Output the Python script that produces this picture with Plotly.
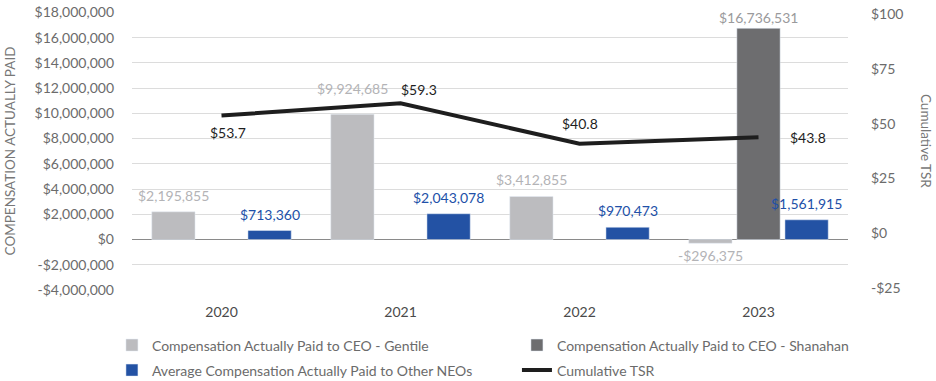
import plotly.graph_objects as go

years = ["2020", "2021", "2022", "2023"]
cap_gentile = [2195855, 9924685, 3412855, -296375]
cap_shanahan = [None, None, None, 16736531]
cap_neos = [713360, 2043078, 970473, 1561915]
tsr = [53.7, 59.3, 40.8, 43.8]

left_ticks = [-4000000, -2000000, 0, 2000000, 4000000, 6000000, 8000000,
              10000000, 12000000, 14000000, 16000000, 18000000]
right_ticks = [-25, 0, 25, 50, 75, 100]

FONT = "Lato"
GRAY_TXT = "#6b6b6b"
C_GENTILE = "#bcbcbf"
C_SHAN = "#6d6d6f"
C_NEO = "#2352a4"
C_TSR = "#1e1e1e"

W, H = 936, 381
ML, MR, MT, MB = 132, 88, 12, 91
PW = W - ML - MR
PH = H - MT - MB


def money(v):
    if v is None:
        return ""
    return ("-$" if v < 0 else "$") + f"{abs(v):,.0f}"


fig = go.Figure()
series = [
    ("Compensation Actually Paid to CEO - Gentile", cap_gentile, C_GENTILE, "#b3b3b6", -1, "legend"),
    ("Compensation Actually Paid to CEO - Shanahan", cap_shanahan, C_SHAN, "#9a9a9c", 0, "legend"),
    ("Average Compensation Actually Paid to Other NEOs", cap_neos, C_NEO, "#2150a8", 1, "legend2"),
]
for name, vals, col, tcol, _, lg in series:
    fig.add_trace(go.Bar(x=years, y=vals, name=name, marker_color=col, legend=lg))

fig.add_trace(go.Scatter(
    x=years, y=tsr, name="Cumulative TSR", mode="lines", yaxis="y2", legend="legend2",
    line=dict(color=C_TSR, width=4),
))

# bar value labels
group_step = PW / 4 * (1 - 0.194) / 3
for name, vals, col, tcol, slot, _ in series:
    for i, v in enumerate(vals):
        if v is None:
            continue
        gap = 6
        if slot == -1 and i == 1:
            gap = 15
        if slot == 0:
            gap = 0
        if v < 0:
            gap = 2
        fig.add_annotation(
            x=i, y=v, xref="x", yref="y", text=money(v), showarrow=False,
            xshift=slot * group_step, yshift=gap if v >= 0 else -gap,
            yanchor="bottom" if v >= 0 else "top",
            font=dict(size=14, color=tcol, family=FONT))

# TSR labels
offsets = [(6, -17), (18, 14), (0, 20), (49, 0)]
for i, (v, (dx, dy)) in enumerate(zip(tsr, offsets)):
    fig.add_annotation(x=i, y=v, xref="x", yref="y2", text=f"${v:.1f}",
                       showarrow=False, xshift=dx, yshift=dy,
                       font=dict(size=14, color="#1e1e1e", family=FONT))

fig.add_annotation(x=1.109, y=0.536, xref="paper", yref="paper", text="Cumulative TSR",
                   textangle=90, showarrow=False, xanchor="center", yanchor="middle",
                   font=dict(size=13.5, color="#777777", family=FONT))

leg_common = dict(orientation="h", xanchor="left", yanchor="top",
                  entrywidth=360, traceorder="normal",
                  font=dict(size=14, color=GRAY_TXT, family=FONT))

fig.update_layout(
    width=W, height=H,
    margin=dict(l=ML, r=MR, t=MT, b=MB, autoexpand=False),
    paper_bgcolor="white", plot_bgcolor="white",
    barmode="group", bargap=0.194, bargroupgap=0.1,
    font=dict(family=FONT, color=GRAY_TXT, size=14),
    showlegend=True,
    legend=dict(x=-0.028, y=-0.142, **leg_common),
    legend2=dict(x=-0.028, y=-0.232, **leg_common),
    xaxis=dict(type="category", range=[-0.5, 3.5], tickfont=dict(size=14, color="#4a4a4a"),
               showgrid=False, showline=False, ticks="", ticklabelstandoff=12),
    yaxis=dict(range=[-4000000, 18030000], tickvals=left_ticks,
               ticktext=[money(v) for v in left_ticks],
               showgrid=True, gridcolor="#dcdcdc", gridwidth=1,
               zeroline=True, zerolinecolor="#8a8a8a", zerolinewidth=1,
               tickfont=dict(size=14, color=GRAY_TXT), ticks="", ticklabelstandoff=17,
               ticklabeloverflow="allow",
               title=dict(text="COMPENSATION ACTUALLY PAID", standoff=15,
                          font=dict(size=13.5, color="#777777"))),
    yaxis2=dict(range=[-26, 101], overlaying="y", side="right",
                tickvals=right_ticks, ticktext=[money(v) for v in right_ticks],
                showgrid=False, zeroline=False, ticks="", ticklabelstandoff=22,
                ticklabeloverflow="allow",
                tickfont=dict(size=14, color=GRAY_TXT)),
)

fig.write_html("out.html", config={"displayModeBar": False},
               post_script="document.body.style.margin='0';")
